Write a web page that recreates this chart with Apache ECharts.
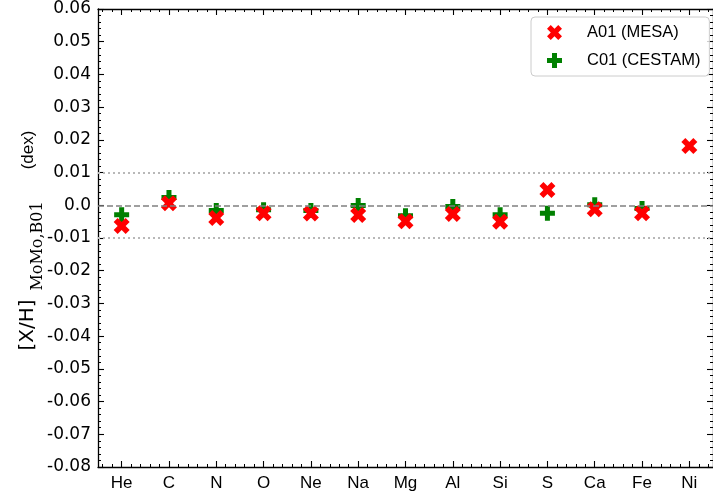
<!DOCTYPE html>
<html>
<head>
<meta charset="utf-8">
<script src="https://cdn.jsdelivr.net/npm/echarts@6/dist/echarts.min.js"></script>
<style>
  html, body { margin: 0; padding: 0; background: #ffffff; }
  #chart { width: 713px; height: 501px; }
</style>
</head>
<body>
<div id="chart"></div>
<script>
// Elements shown along the x axis
const elements = ['He', 'C', 'N', 'O', 'Ne', 'Na', 'Mg', 'Al', 'Si', 'S', 'Ca', 'Fe', 'Ni'];

// [X/H] differences relative to MoMo,B01 (dex)
const mesaA01   = [-0.0063, 0.0006, -0.0039, -0.0024, -0.0025, -0.0030, -0.0049, -0.0027, -0.0050, 0.0047, -0.0012, -0.0024, 0.0181];
const cestamC01 = [-0.0029, 0.0024, -0.0016, -0.0014, -0.0016, -0.0001, -0.0032, -0.0004, -0.0029, -0.0024, 0.0002, -0.0010, null];

// Y axis range and reference levels
const yMin = -0.08;
const yMax = 0.06;
const yStep = 0.01;
const zeroLevel = 0;
const bandLevels = [0.01, -0.01];

// Minor tick slots: five per element on the x axis
const minorPerElement = 5;
const minorSlots = Array.from({ length: elements.length * minorPerElement }, () => '');

// Filled "X" and filled "+" marker outlines
const X_PATH = 'path://M1,0 L2,1 L3,0 L4,1 L3,2 L4,3 L3,4 L2,3 L1,4 L0,3 L1,2 L0,1 Z';
const P_PATH = 'path://M2,0 L4,0 L4,2 L6,2 L6,4 L4,4 L4,6 L2,6 L2,4 L0,4 L0,2 L2,2 Z';

const RED = '#ff0000';
const GREEN = '#008000';
const SANS = '"Liberation Sans", Arial, sans-serif';
const TICK_FONT = '"DejaVu Sans", sans-serif';

const axisLine = { show: true, onZero: false, lineStyle: { color: '#000', width: 1.3 } };

function majorX(position, showLabels) {
  return {
    type: 'category',
    data: elements,
    position: position,
    boundaryGap: true,
    axisLine: axisLine,
    axisTick: { show: true, inside: true, alignWithLabel: true, interval: 0, length: 6, lineStyle: { color: '#000', width: 1.1 } },
    axisLabel: { show: showLabels, interval: 0, margin: 8, color: '#000', fontSize: 17, fontFamily: SANS },
    splitLine: { show: false }
  };
}
function minorX(position) {
  return {
    type: 'category',
    data: minorSlots,
    position: position,
    boundaryGap: true,
    axisLine: { show: false, onZero: false },
    axisTick: { show: true, inside: true, alignWithLabel: true, interval: 0, length: 3, lineStyle: { color: '#000', width: 1 } },
    axisLabel: { show: false },
    splitLine: { show: false }
  };
}
function valueY(position, showLabels) {
  return {
    type: 'value',
    position: position,
    min: yMin,
    max: yMax,
    interval: yStep,
    axisLine: axisLine,
    axisTick: { show: true, inside: true, length: 6, lineStyle: { color: '#000', width: 1.1 } },
    minorTick: { show: true, splitNumber: 5, length: 3, lineStyle: { color: '#000', width: 1 } },
    axisLabel: {
      show: showLabels,
      margin: 7,
      color: '#000',
      fontSize: 17,
      fontFamily: TICK_FONT,
      formatter: v => (Math.abs(v) < 1e-9 ? '0.0' : v.toFixed(2))
    },
    splitLine: { show: false },
    minorSplitLine: { show: false }
  };
}

const chart = echarts.init(document.getElementById('chart'), null, { renderer: 'canvas' });

chart.setOption({
  animation: false,
  backgroundColor: '#ffffff',
  grid: { left: 98, right: -4, top: 9, bottom: 34, containLabel: false },
  xAxis: [majorX('bottom', true), minorX('bottom'), majorX('top', false), minorX('top')],
  yAxis: [valueY('left', true), valueY('right', false)],
  legend: {
    orient: 'vertical',
    left: 531,
    top: 17,
    padding: [7, 9, 7, 16],
    itemGap: 11,
    itemWidth: 15,
    itemHeight: 15,
    symbolKeepAspect: true,
    backgroundColor: 'rgba(255,255,255,0.8)',
    borderColor: '#cccccc',
    borderWidth: 1,
    borderRadius: 4,
    textStyle: { color: '#000', fontSize: 16.5, fontFamily: SANS, lineHeight: 16, padding: [0, 0, 0, 20] },
    data: [
      { name: 'A01 (MESA)', icon: X_PATH },
      { name: 'C01 (CESTAM)', icon: P_PATH }
    ]
  },
  graphic: [
    { type: 'text', x: 28, y: 325, rotation: Math.PI / 2,
      style: { text: '[X/H]', fontSize: 20, fontFamily: TICK_FONT, fill: '#000', align: 'center', verticalAlign: 'middle' } },
    { type: 'text', x: 38, y: 246, rotation: Math.PI / 2,
      style: { text: 'MoMo,B01', fontSize: 16, fontFamily: '"DejaVu Serif", serif', fill: '#000', align: 'center', verticalAlign: 'middle' } },
    { type: 'text', x: 28, y: 150, rotation: Math.PI / 2,
      style: { text: '(dex)', fontSize: 17, fontFamily: SANS, fill: '#000', align: 'center', verticalAlign: 'middle' } }
  ],
  series: [
    {
      name: 'C01 (CESTAM)',
      type: 'scatter',
      xAxisIndex: 0,
      yAxisIndex: 0,
      data: cestamC01,
      symbol: P_PATH,
      symbolSize: 15,
      itemStyle: { color: GREEN, opacity: 1 },
      z: 3,
      markLine: {
        silent: true,
        symbol: 'none',
        label: { show: false },
        animation: false,
        data: [
          { yAxis: zeroLevel, lineStyle: { type: [6, 3], color: '#808080', width: 1.5 } },
          ...bandLevels.map(v => ({ yAxis: v, lineStyle: { type: [2, 3], color: '#b8b8b8', width: 2 } }))
        ]
      }
    },
    {
      name: 'A01 (MESA)',
      type: 'scatter',
      xAxisIndex: 0,
      yAxisIndex: 0,
      data: mesaA01,
      symbol: X_PATH,
      symbolSize: 16,
      itemStyle: { color: RED, opacity: 1 },
      z: 4
    }
  ]
});
</script>
</body>
</html>
